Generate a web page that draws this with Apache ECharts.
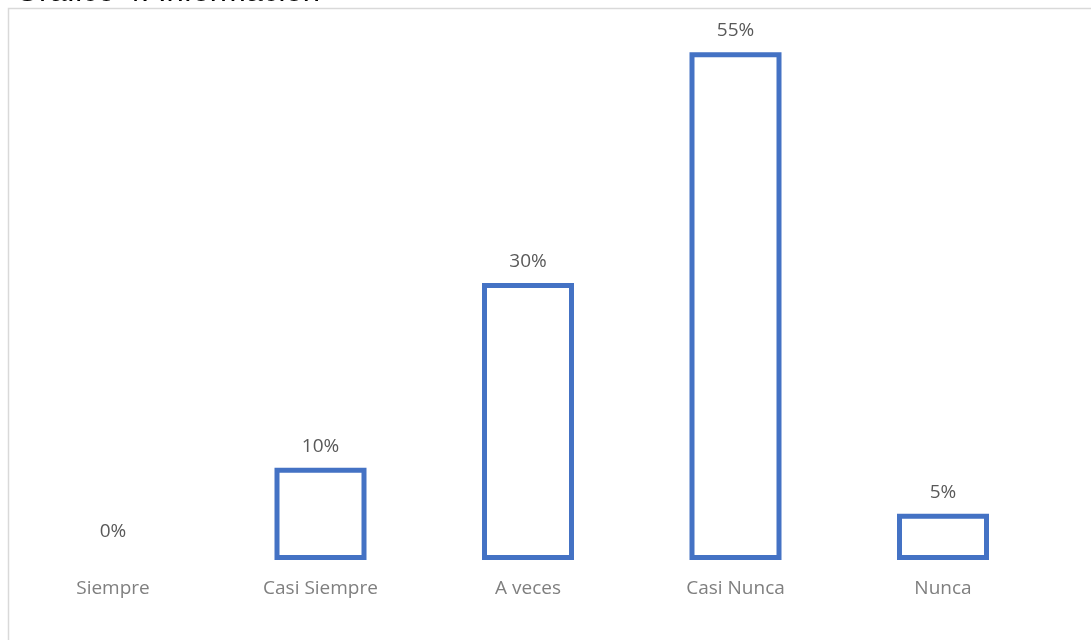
<!DOCTYPE html>
<html>
<head>
<meta charset="utf-8">
<script src="https://cdn.jsdelivr.net/npm/echarts@6/dist/echarts.min.js"></script>
<style>html,body{margin:0;padding:0;background:#fff}#c{width:1091px;height:640px}</style>
</head>
<body>
<div id="c"></div>
<script>
var titleText = 'Gráfico 4: Información';
var categories = ['Siempre', 'Casi Siempre', 'A veces', 'Casi Nunca', 'Nunca'];
var values = [0, 10, 30, 55, 5];

var chart = echarts.init(document.getElementById('c'));
chart.setOption({
  backgroundColor: '#ffffff',
  animation: false,
  title: {
    text: titleText, left: 15, top: -23, padding: 0,
    textStyle: { fontFamily: 'Liberation Sans', fontSize: 31, fontWeight: 'normal', color: '#000', lineHeight: 31 }
  },
  graphic: [{
    type: 'rect', silent: true, z: -1,
    shape: { x: 8.5, y: 8.5, width: 1200, height: 800 },
    style: { fill: 'none', stroke: '#d9d9d9', lineWidth: 1.5 }
  }],
  grid: { left: 9.25, right: 44.25, top: 6, bottom: 80, containLabel: false },
  xAxis: {
    type: 'category', data: categories,
    axisLine: { show: false }, axisTick: { show: false },
    axisLabel: { color: '#7f7f7f', fontSize: 19, fontFamily: 'Open Sans', margin: 19 }
  },
  yAxis: {
    type: 'value', min: 0, max: 60, interval: 10, show: false,
    splitLine: { show: false }
  },
  series: [{
    type: 'bar', barWidth: 92,
    data: values.map(function (v) {
      return v === 0 ? { value: v, itemStyle: { borderWidth: 0 }, label: { distance: 19 } } : v;
    }),
    itemStyle: { color: '#ffffff', borderColor: '#4472c4', borderWidth: 5 },
    label: {
      show: true, position: 'top', distance: 12,
      formatter: function (p) { return p.value + '%'; },
      color: '#595959', fontSize: 19, fontFamily: 'Open Sans'
    }
  }]
});
</script>
</body>
</html>
